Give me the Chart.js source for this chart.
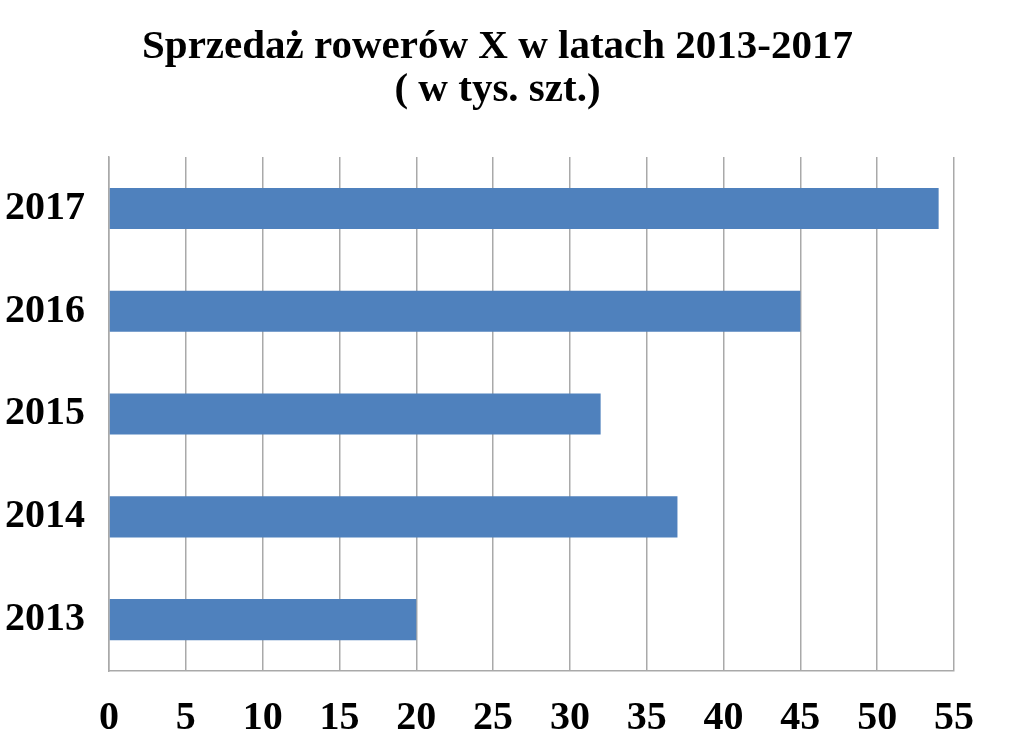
<!DOCTYPE html>
<html>
<head>
<meta charset="utf-8">
<script src="https://cdn.jsdelivr.net/npm/chart.js@4"></script>
<style>
  html, body { margin: 0; padding: 0; background: #fff; }
  #wrap { width: 1024px; height: 745px; }
</style>
</head>
<body>
<div id="wrap"><canvas id="sales"></canvas></div>
<script>
var years = ['2013', '2014', '2015', '2016', '2017'];
var sales = [20, 37, 32, 45, 54];
var titleLines = ['Sprzedaż rowerów X w latach 2013-2017', '( w tys. szt.)'];

var serif = "'Liberation Serif', 'Times New Roman', serif";
var gridColor = '#a9a9a9';

// the original title sits a bit right of the canvas centre
var nudgeTitle = {
    id: 'nudgeTitle',
    afterLayout: function (chart) {
        if (chart.titleBlock) {
            chart.titleBlock.left += 18;
            chart.titleBlock.right += 18;
        }
    }
};

new Chart(document.getElementById('sales'), {
    type: 'bar',
    data: {
        labels: years,
        datasets: [{
            label: 'Sprzedaż',
            data: sales,
            backgroundColor: '#4f81bd',
            borderWidth: 0,
            barPercentage: 0.4,
            categoryPercentage: 1.0
        }]
    },
    options: {
        indexAxis: 'y',
        responsive: true,
        maintainAspectRatio: false,
        devicePixelRatio: 1,
        animation: false,
        layout: {
            padding: { left: 5, right: 70, top: 0, bottom: 4 }
        },
        plugins: {
            legend: { display: false },
            tooltip: { enabled: false },
            title: {
                display: true,
                text: titleLines,
                color: '#000',
                font: { family: serif, size: 41, weight: 'bold', lineHeight: 1.05 },
                padding: { top: 26, bottom: 45 }
            }
        },
        scales: {
            x: {
                min: 0,
                max: 55,
                afterFit: function (scale) { scale.height = 70; },
                ticks: {
                    stepSize: 5,
                    color: '#000',
                    padding: 24,
                    font: { family: serif, size: 40, weight: 'bold' }
                },
                grid: { color: gridColor, lineWidth: 1.5, drawTicks: false },
                border: { display: true, color: gridColor, width: 1.5 }
            },
            y: {
                reverse: true,
                afterFit: function (scale) { scale.width = 104; },
                ticks: {
                    color: '#000',
                    padding: 24,
                    font: { family: serif, size: 40, weight: 'bold' }
                },
                grid: { display: false, drawTicks: false },
                border: { display: true, color: gridColor, width: 1.5 }
            }
        }
    },
    plugins: [nudgeTitle]
});
</script>
</body>
</html>
